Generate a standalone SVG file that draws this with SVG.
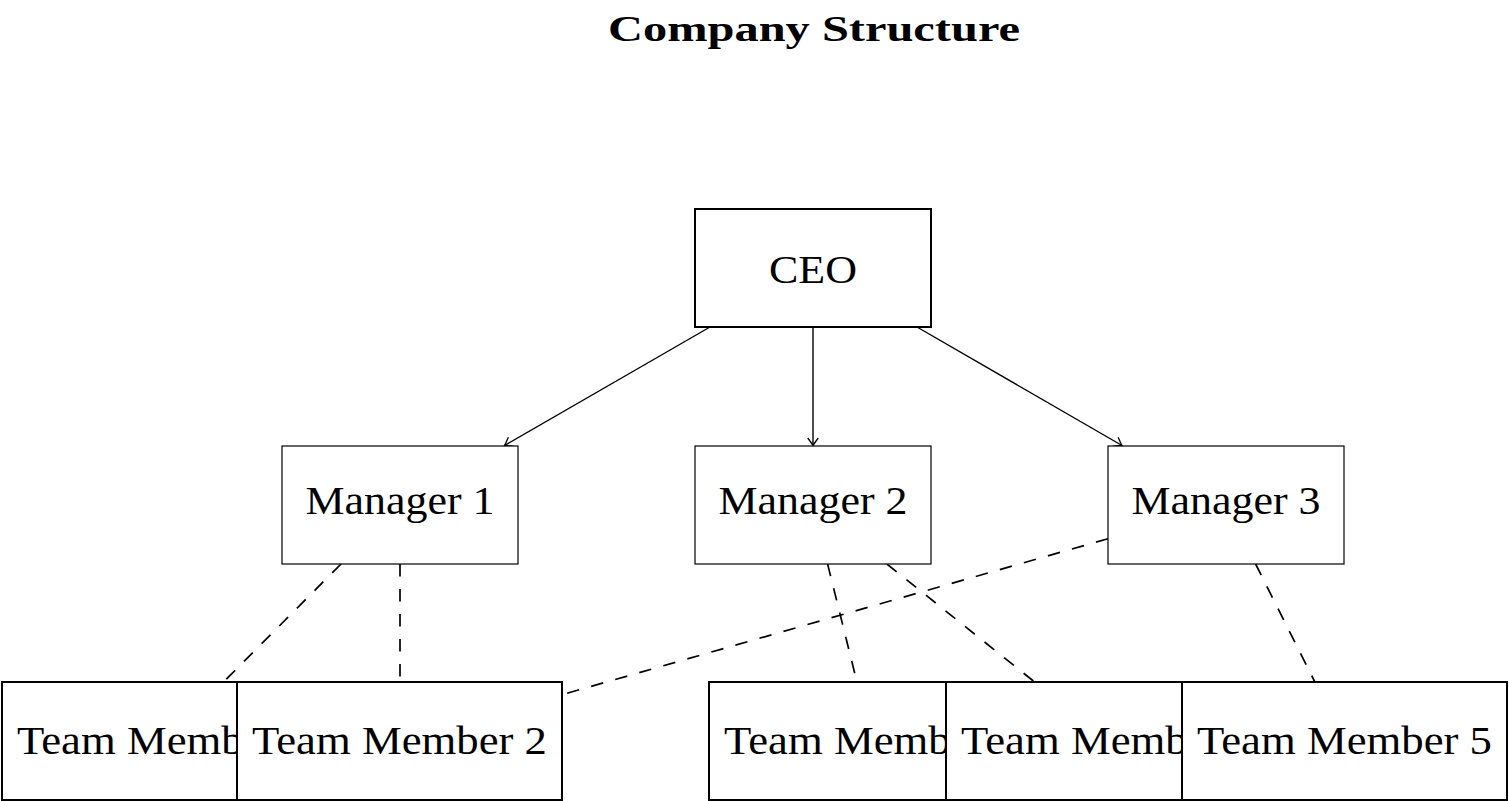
<svg xmlns="http://www.w3.org/2000/svg" width="1509" height="801" viewBox="0 0 1509 801">
<style>
.bg{fill:#fff}
.box{fill:#fff;stroke:#000;stroke-width:2}
.mgr{fill:#fff;stroke:#000;stroke-width:1.2}
.lbl{font-family:"Liberation Serif","Times New Roman",serif;font-size:41px;fill:#000;text-anchor:middle}
.title{font-family:"Liberation Serif","Times New Roman",serif;font-size:35px;font-weight:bold;fill:#000;text-anchor:middle}
.arr{stroke:#000;stroke-width:1.4;fill:none;marker-end:url(#tip)}
.dash{stroke:#000;stroke-width:1.7;fill:none;stroke-dasharray:12.5 12.5}
</style>
<defs>
<marker id="tip" markerUnits="userSpaceOnUse" viewBox="-9 -7 10 14" refX="0" refY="0" markerWidth="10" markerHeight="14" orient="auto">
<path d="M -7.5 -5.3 Q -2 -1.2 0 0 Q -2 1.2 -7.5 5.3" fill="none" stroke="#000" stroke-width="1.3"/>
</marker>
<clipPath id="c1"><rect x="2" y="682" width="235" height="118"/></clipPath>
<clipPath id="c3"><rect x="709" y="682" width="237" height="118"/></clipPath>
<clipPath id="c4"><rect x="946" y="682" width="236" height="118"/></clipPath>
</defs>
<rect class="bg" x="0" y="0" width="1509" height="801"/>
<text class="title" x="814" y="41" textLength="412" lengthAdjust="spacingAndGlyphs">Company Structure</text>
<g id="connectors">
<line class="arr" x1="710" y1="327" x2="504.5" y2="445.5"/>
<line class="arr" x1="813" y1="327" x2="813" y2="445.5"/>
<line class="arr" x1="917" y1="327" x2="1122" y2="445.5"/>
<line class="dash" x1="341" y1="564" x2="223.5" y2="682"/>
<line class="dash" x1="400" y1="564" x2="400" y2="682"/>
<line class="dash" x1="1108" y1="538.7" x2="562" y2="694.7"/>
<line class="dash" x1="827.6" y1="564" x2="856.9" y2="682"/>
<line class="dash" x1="886.9" y1="564" x2="1034.6" y2="682"/>
<line class="dash" x1="1255.6" y1="564" x2="1314.9" y2="682"/>
</g>
<g id="ceo">
<rect class="box" x="695" y="209" width="236" height="118"/>
<text class="lbl" x="813" y="283" textLength="88" lengthAdjust="spacingAndGlyphs">CEO</text>
</g>
<g id="manager1">
<rect class="mgr" x="282" y="446" width="236" height="118"/>
<text class="lbl" x="400" y="514" textLength="189" lengthAdjust="spacingAndGlyphs">Manager 1</text>
</g>
<g id="manager2">
<rect class="mgr" x="695" y="446" width="236" height="118"/>
<text class="lbl" x="813" y="514" textLength="189" lengthAdjust="spacingAndGlyphs">Manager 2</text>
</g>
<g id="manager3">
<rect class="mgr" x="1108" y="446" width="236" height="118"/>
<text class="lbl" x="1226" y="514" textLength="189" lengthAdjust="spacingAndGlyphs">Manager 3</text>
</g>
<g id="team1">
<rect class="box" x="2" y="682" width="325" height="118"/>
<text class="lbl" x="164.5" y="754" textLength="295" lengthAdjust="spacingAndGlyphs" clip-path="url(#c1)">Team Member 1</text>
</g>
<g id="team2">
<rect class="box" x="237" y="682" width="325" height="118"/>
<text class="lbl" x="399.5" y="754" textLength="295" lengthAdjust="spacingAndGlyphs">Team Member 2</text>
</g>
<g id="team3">
<rect class="box" x="709" y="682" width="325" height="118"/>
<text class="lbl" x="871.5" y="754" textLength="295" lengthAdjust="spacingAndGlyphs" clip-path="url(#c3)">Team Member 3</text>
</g>
<g id="team4">
<rect class="box" x="946" y="682" width="325" height="118"/>
<text class="lbl" x="1108.5" y="754" textLength="295" lengthAdjust="spacingAndGlyphs" clip-path="url(#c4)">Team Member 4</text>
</g>
<g id="team5">
<rect class="box" x="1182" y="682" width="325" height="118"/>
<text class="lbl" x="1344.5" y="754" textLength="295" lengthAdjust="spacingAndGlyphs">Team Member 5</text>
</g>
</svg>
